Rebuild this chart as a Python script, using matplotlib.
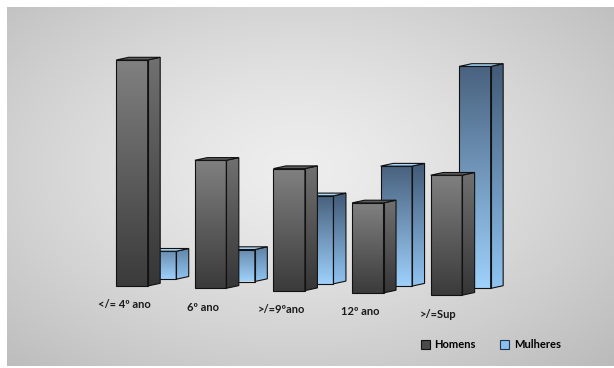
import numpy as np
import matplotlib.pyplot as plt
from matplotlib.patches import Polygon, Patch
from matplotlib.colors import to_rgb

categorias = ["</= 4º ano", "6º ano", ">/=9ºano", "12º ano", ">/=Sup"]
homens = [113, 64, 61, 45, 60]
mulheres = [14, 16, 44, 60, 111]

W, H = 614, 368
plt.rcParams['font.family'] = ['Lato', 'DejaVu Sans']

fig = plt.figure(figsize=(W / 100, H / 100), dpi=100)
fig.patch.set_facecolor('white')

# painel de fundo com gradiente radial
bg = fig.add_axes([7 / W, 2 / H, 1 - 7 / W, 1 - 9 / H])
yy, xx = np.mgrid[0:1:240j, 0:1:400j]
r = np.sqrt(((xx - 0.48) / 0.74) ** 2 + ((yy - 0.45) / 0.78) ** 2)
lum = np.clip(238 - 52 * r ** 1.3, 180, 255) / 255
bg.imshow(np.dstack([lum, lum, lum]), extent=[0, 1, 0, 1], origin='upper',
          aspect='auto', interpolation='bilinear')
bg.axis('off')

ax = fig.add_axes([0, 0, 1, 1])
ax.patch.set_alpha(0)
ax.axis('off')

larg = 0.40          # largura da face frontal
desl_m = 0.363       # deslocamento das barras de trás
prof_x, prof_y = 0.159, 1.35   # profundidade 3D
incl = -1.15         # inclinação da linha de base
base_m = 3.4


def mistura(c1, c2, t):
    a, b = np.array(to_rgb(c1)), np.array(to_rgb(c2))
    return a + (b - a) * t


def face(poly_pts, ext, c_baixo, c_cima, z):
    grad = np.linspace(0, 1, 64)[:, None, None]
    img = np.array(c_baixo)[None, None, :] + grad * (np.array(c_cima) - np.array(c_baixo))[None, None, :]
    poly = Polygon(poly_pts, closed=True, fc='none', ec='#111111', lw=0.8, zorder=z + 0.2)
    ax.add_patch(poly)
    im = ax.imshow(img, extent=ext, origin='lower', aspect='auto', zorder=z,
                   interpolation='bilinear')
    im.set_clip_path(poly)


def barra(x0, base, h, cores, z):
    fb, fc, sb, sc, topo = cores
    t = min(1.0, (h / 40) ** 0.5)
    f_cima = mistura(fb, fc, t)
    s_cima = mistura(sb, sc, t)
    # face frontal
    face([(x0, base), (x0 + larg, base), (x0 + larg, base + h), (x0, base + h)],
         [x0, x0 + larg, base, base + h], to_rgb(fb), f_cima, z)
    # face lateral
    xr = x0 + larg
    face([(xr, base), (xr + prof_x, base + prof_y), (xr + prof_x, base + h + prof_y), (xr, base + h)],
         [xr, xr + prof_x, base, base + h + prof_y], to_rgb(sb), s_cima, z)
    # topo
    ax.add_patch(Polygon([(x0, base + h), (xr, base + h), (xr + prof_x, base + h + prof_y),
                          (x0 + prof_x, base + h + prof_y)], closed=True, fc=topo,
                         ec='#111111', lw=0.8, zorder=z + 0.3))


cores_h = ('#3b3b3b', '#808080', '#363636', '#707070', '#5c5c5c')
cores_m = ('#9dd0fb', '#49627f', '#8fc3f0', '#425a77', '#a9d7fc')

for i, v in enumerate(mulheres):
    barra(i - larg / 2 + desl_m, incl * i + base_m, v, cores_m, 2)
for i, v in enumerate(homens):
    barra(i - larg / 2, incl * i, v, cores_h, 3)

for i, c in enumerate(categorias):
    ax.text(i - 0.10, incl * i - 9.5, c, ha='center', va='center', fontsize=8,
            fontweight='bold', color='#1a1a1a')

ax.set_xlim(-1.679, 6.132)
ax.set_ylim(-41, 143)

handles = [Patch(fc='#4a4a4a', ec='#111111', lw=0.8),
           Patch(fc='#8bbfee', ec='#1f3550', lw=0.8)]
fig.legend(handles, ['Homens', 'Mulheres'], ncol=2, frameon=False, loc='center',
           bbox_to_anchor=(491 / W, 1 - 345 / H), handlelength=0.8, handleheight=0.8,
           handletextpad=0.4, columnspacing=2.2,
           prop={'family': ['Lato', 'DejaVu Sans'], 'weight': 'bold', 'size': 8})

fig.savefig('out.png', dpi=100)
